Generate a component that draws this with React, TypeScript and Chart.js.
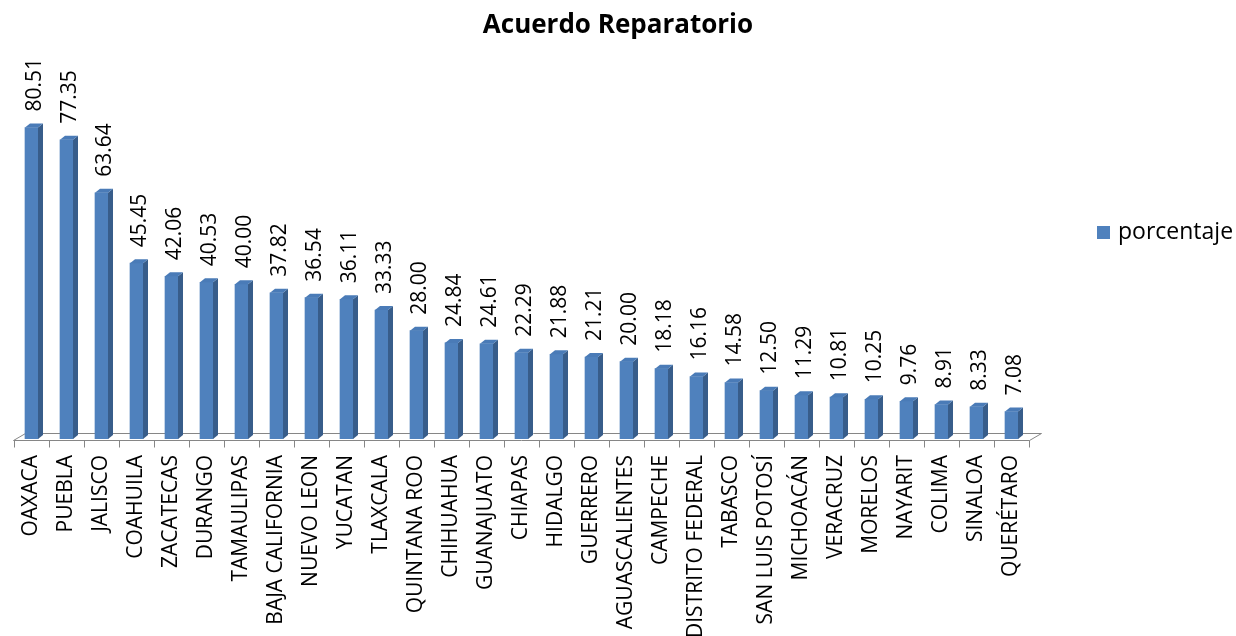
import React, { useEffect, useRef } from 'react';
import { Chart, registerables } from 'chart.js';

Chart.register(...registerables);

const categories = [
  'OAXACA', 'PUEBLA', 'JALISCO', 'COAHUILA', 'ZACATECAS', 'DURANGO', 'TAMAULIPAS',
  'BAJA CALIFORNIA', 'NUEVO LEON', 'YUCATAN', 'TLAXCALA', 'QUINTANA ROO', 'CHIHUAHUA',
  'GUANAJUATO', 'CHIAPAS', 'HIDALGO', 'GUERRERO', 'AGUASCALIENTES', 'CAMPECHE',
  'DISTRITO FEDERAL', 'TABASCO', 'SAN LUIS POTOSÍ', 'MICHOACÁN', 'VERACRUZ', 'MORELOS',
  'NAYARIT', 'COLIMA', 'SINALOA', 'QUERÉTARO',
];
const porcentaje = [
  80.51, 77.35, 63.64, 45.45, 42.06, 40.53, 40.0, 37.82, 36.54, 36.11, 33.33, 28.0, 24.84,
  24.61, 22.29, 21.88, 21.21, 20.0, 18.18, 16.16, 14.58, 12.5, 11.29, 10.81, 10.25,
  9.76, 8.91, 8.33, 7.08,
];
const seriesName = 'porcentaje';
const titleText = 'Acuerdo Reparatorio';

const FONT = "'Open Sans', 'DejaVu Sans', sans-serif";
const FRONT = '#4F81BD';
const SIDE = '#385D8A';
const TOP = '#4A7BB7';
const DEPTH_X = 5;
const DEPTH_Y = 4;

const threeDPlugin = {
  id: 'threeD',
  beforeDatasetsDraw(chart: any) {
    const { ctx, chartArea: a } = chart;
    const xs = chart.scales.x;
    const n = categories.length;
    const cw = (xs.right - xs.left) / n;
    const fy = Math.round(a.bottom + 1) + 0.5;
    const by = Math.round(a.bottom - 6) + 0.5;
    const dx = 12;
    const L = Math.round(xs.left) - 0.5;
    const R = Math.round(xs.right) + 0.5;
    ctx.save();
    ctx.fillStyle = '#ffffff';
    ctx.strokeStyle = '#868686';
    ctx.lineWidth = 1;
    ctx.beginPath();
    ctx.moveTo(L, fy);
    ctx.lineTo(R, fy);
    ctx.lineTo(R + dx, by);
    ctx.lineTo(L + dx, by);
    ctx.closePath();
    ctx.fill();
    ctx.stroke();
    ctx.beginPath();
    for (let k = 0; k <= n; k++) {
      const tx = Math.round(xs.left + k * cw) + 0.5;
      ctx.moveTo(tx, fy);
      ctx.lineTo(tx, fy + 7);
    }
    ctx.stroke();
    ctx.restore();
  },
  afterDatasetsDraw(chart: any) {
    const { ctx } = chart;
    const meta = chart.getDatasetMeta(0);
    ctx.save();
    meta.data.forEach((el: any, i: number) => {
      const left = el.x - el.width / 2;
      const right = el.x + el.width / 2;
      const top = el.y;
      const base = el.base;
      // side face
      ctx.fillStyle = SIDE;
      ctx.beginPath();
      ctx.moveTo(right, top);
      ctx.lineTo(right + DEPTH_X, top - DEPTH_Y);
      ctx.lineTo(right + DEPTH_X, base - DEPTH_Y);
      ctx.lineTo(right, base);
      ctx.closePath();
      ctx.fill();
      // top face
      ctx.fillStyle = TOP;
      ctx.beginPath();
      ctx.moveTo(left, top);
      ctx.lineTo(left + DEPTH_X, top - DEPTH_Y);
      ctx.lineTo(right + DEPTH_X, top - DEPTH_Y);
      ctx.lineTo(right, top);
      ctx.closePath();
      ctx.fill();
      // value label
      ctx.save();
      ctx.translate(el.x + DEPTH_X / 2 + 1, top - DEPTH_Y - 12);
      ctx.rotate(-Math.PI / 2);
      ctx.fillStyle = '#000000';
      ctx.font = `21px ${FONT}`;
      ctx.textAlign = 'left';
      ctx.textBaseline = 'middle';
      ctx.fillText(porcentaje[i].toFixed(2), 0, 0);
      ctx.restore();
    });
    ctx.restore();
  },
  afterDraw(chart: any) {
    const { ctx, chartArea: a } = chart;
    const sx = a.right + 68;
    const sy = 226;
    ctx.save();
    ctx.fillStyle = FRONT;
    ctx.fillRect(sx, sy, 13, 13);
    ctx.fillStyle = '#000000';
    ctx.font = `23px ${FONT}`;
    ctx.textAlign = 'left';
    ctx.textBaseline = 'middle';
    ctx.fillText(seriesName, sx + 21, sy + 6.5);
    ctx.restore();
  },
};

export default function App() {
  const canvasRef = useRef<HTMLCanvasElement | null>(null);

  useEffect(() => {
    if (!canvasRef.current) return;
    const chart = new Chart(canvasRef.current, {
      type: 'bar',
      data: {
        labels: categories,
        datasets: [
          {
            label: seriesName,
            data: porcentaje,
            backgroundColor: FRONT,
            borderWidth: 0,
            barThickness: 13,
          },
        ],
      },
      options: {
        responsive: false,
        animation: false,
        layout: { padding: 0 },
        plugins: {
          legend: { display: false },
          tooltip: { enabled: false },
          title: {
            display: true,
            text: titleText,
            color: '#000000',
            font: { family: FONT, size: 26, weight: 'bold' },
            padding: { top: 10, bottom: 11 },
          },
        },
        scales: {
          x: {
            grid: { display: false, drawTicks: false },
            border: { display: false },
            ticks: {
              autoSkip: false,
              maxRotation: 90,
              minRotation: 90,
              padding: 16,
              color: '#000000',
              font: { family: FONT, size: 21 },
            },
            afterFit: (s: any) => {
              s.height = 197;
            },
          },
          y: {
            position: 'left',
            min: 0,
            max: 100,
            grid: { display: false },
            border: { display: false },
            ticks: { display: false },
            afterFit: (s: any) => {
              s.width = 14;
            },
          },
          yRight: {
            type: 'linear',
            position: 'right',
            grid: { display: false },
            border: { display: false },
            ticks: { display: false },
            afterFit: (s: any) => {
              s.width = 207;
            },
          },
        },
      },
      plugins: [threeDPlugin],
    });
    return () => chart.destroy();
  }, []);

  return (
    <div style={{ position: 'absolute', left: 0, top: 0, width: 1236, height: 636, background: '#fff' }}>
      <canvas ref={canvasRef} width={1236} height={636} />
    </div>
  );
}
